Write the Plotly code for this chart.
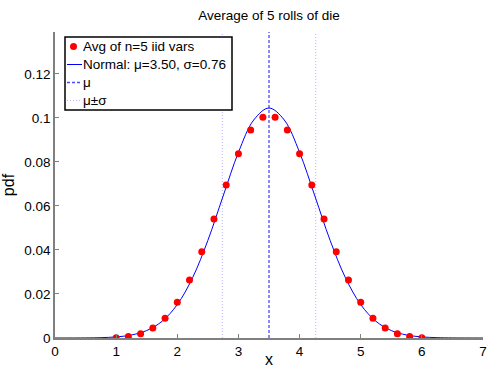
import plotly.graph_objects as go

# Data: average of 5 dice rolls (discrete pdf)
avg_x = [1.0, 1.2, 1.4, 1.6, 1.8, 2.0, 2.2, 2.4, 2.6, 2.8, 3.0, 3.2, 3.4,
         3.6, 3.8, 4.0, 4.2, 4.4, 4.6, 4.8, 5.0, 5.2, 5.4, 5.6, 5.8, 6.0]
avg_pdf = [0.000129, 0.000643, 0.001929, 0.004501, 0.009002, 0.016204,
           0.026363, 0.039223, 0.054012, 0.069444, 0.083719, 0.094522,
           0.100309, 0.100309, 0.094522, 0.083719, 0.069444, 0.054012,
           0.039223, 0.026363, 0.016204, 0.009002, 0.004501, 0.001929,
           0.000643, 0.000129]

# Normal curve (read at sample points)
norm_x = [0.0, 0.5, 0.75, 1.0, 1.25, 1.5, 1.75, 2.0, 2.25, 2.5, 2.75, 3.0, 3.25,
          3.5, 3.75, 4.0, 4.25, 4.5, 4.75, 5.0, 5.25, 5.5, 5.75, 6.0, 6.25, 6.5, 7.0]
norm_pdf = [0.000003, 0.000047, 0.00016, 0.000492, 0.001363, 0.003388, 0.007568,
            0.01519, 0.02738, 0.04433, 0.0645, 0.08432, 0.09902,
            0.10447, 0.09902, 0.08432, 0.0645, 0.04433, 0.02738, 0.01519,
            0.007568, 0.003388, 0.001363, 0.000492, 0.00016, 0.000047, 0.000003]

mu = 3.50
sigma = 0.76376
y_top = 0.139

x_ticks = [0, 1, 2, 3, 4, 5, 6, 7]
y_ticks = [0, 0.02, 0.04, 0.06, 0.08, 0.1, 0.12]
y_tick_labels = ["0", "0.02", "0.04", "0.06", "0.08", "0.1", "0.12"]
legend_labels = ["Avg of n=5 iid vars", "Normal: μ=3.50, σ=0.76", "μ", "μ±σ"]

W, H = 489, 368
L, R, T, B = 55, 6, 32, 30
PW, PH = W - L - R, H - T - B


def px(x):
    return (x - L) / PW


def py(y):
    return (H - B - y) / PH


C_NORM = "#0000ff"
C_MU = "#4b4bff"
C_SIG = "#b4b4ff"
C_DOT = "#ff0000"

fig = go.Figure()
fig.add_trace(go.Scatter(x=[mu - sigma, mu - sigma, None, mu + sigma, mu + sigma],
                         y=[0, y_top, None, 0, y_top], mode="lines",
                         line=dict(color=C_SIG, width=1, dash="1px,2px"),
                         name=legend_labels[3], showlegend=False))
fig.add_trace(go.Scatter(x=[mu, mu], y=[0, y_top], mode="lines",
                         line=dict(color=C_MU, width=1.3, dash="3px,2px"),
                         name=legend_labels[2], showlegend=False))
fig.add_trace(go.Scatter(x=norm_x, y=norm_pdf, mode="lines",
                         line=dict(color=C_NORM, width=1, shape="spline"),
                         name=legend_labels[1], showlegend=False))
fig.add_trace(go.Scatter(x=avg_x, y=avg_pdf, mode="markers",
                         marker=dict(color=C_DOT, size=7, line=dict(width=0)),
                         name=legend_labels[0], showlegend=False))

font = "Liberation Sans, Arial, sans-serif"
FS = 13.5

# manual MATLAB-style legend
shapes = [dict(type="rect", xref="paper", yref="paper",
               x0=px(65), x1=px(232), y0=py(110), y1=py(37),
               line=dict(color="black", width=1.5), fillcolor="white", layer="above")]
rows = [46.5, 64.5, 82.5, 100.5]
styles = [None,
          dict(color=C_NORM, width=1),
          dict(color=C_MU, width=1.3, dash="3px,2px"),
          dict(color=C_SIG, width=1, dash="1px,2px")]
annotations = []
for i, (label, ry) in enumerate(zip(legend_labels, rows)):
    if styles[i] is None:
        shapes.append(dict(type="circle", xref="paper", yref="paper",
                           x0=px(70), x1=px(77), y0=py(ry + 3.5), y1=py(ry - 3.5),
                           fillcolor=C_DOT, line=dict(width=0), layer="above"))
    else:
        shapes.append(dict(type="line", xref="paper", yref="paper",
                           x0=px(67), x1=px(82), y0=py(ry), y1=py(ry),
                           line=styles[i], layer="above"))
    annotations.append(dict(text=label, xref="paper", yref="paper",
                            x=px(81), y=py(ry), xanchor="left", yanchor="middle",
                            showarrow=False, font=dict(size=FS, color="black")))

fig.update_layout(
    width=W, height=H,
    margin=dict(l=L, r=R, t=T, b=B, autoexpand=False),
    paper_bgcolor="white", plot_bgcolor="white",
    font=dict(family=font, size=FS, color="black"),
    title=dict(text="Average of 5 rolls of die", x=(L + PW / 2) / W, xanchor="center",
               y=1 - 15 / H, yanchor="middle", font=dict(size=FS)),
    showlegend=False,
    shapes=shapes,
    annotations=annotations,
)
fig.update_xaxes(range=[0, 7], tickvals=x_ticks, ticks="inside", ticklen=4,
                 tickcolor="#808080", showline=True, linecolor="#808080",
                 linewidth=1.5, showgrid=False, zeroline=False, automargin=False,
                 title=dict(text="x", standoff=4), tickfont=dict(size=FS))
fig.update_yaxes(range=[0, y_top], tickvals=y_ticks, ticktext=y_tick_labels,
                 ticks="inside", ticklen=4, tickcolor="#808080", showline=True,
                 linecolor="#808080", linewidth=1.5, showgrid=False,
                 zeroline=False, automargin=False,
                 title=dict(text="pdf", standoff=6), tickfont=dict(size=FS))

fig.write_html("out.html")
